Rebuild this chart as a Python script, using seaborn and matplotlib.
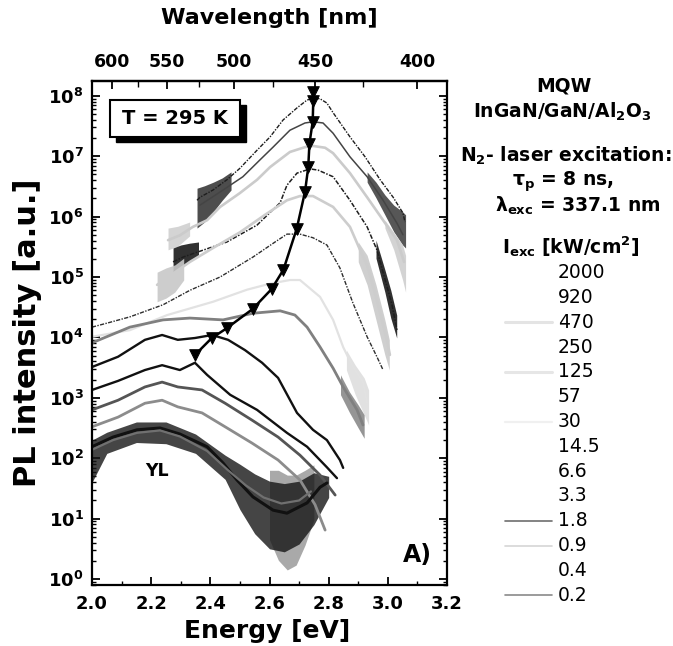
import numpy as np
import matplotlib
matplotlib.use("Agg")
import matplotlib.pyplot as plt
from matplotlib.patches import Rectangle
from matplotlib.lines import Line2D
from matplotlib.ticker import LogLocator, NullFormatter, FixedLocator, MultipleLocator
import seaborn as sns

sns.set_style("ticks")
plt.rcParams['font.family'] = ['DejaVu Sans']
plt.rcParams['mathtext.fontset'] = 'custom'
plt.rcParams['mathtext.rm'] = 'DejaVu Sans:bold'
plt.rcParams['mathtext.bf'] = 'DejaVu Sans:bold'
plt.rcParams['mathtext.it'] = 'DejaVu Sans:bold'
plt.rcParams['mathtext.sf'] = 'DejaVu Sans:bold'
plt.rcParams.update({'text.color': 'black', 'axes.labelcolor': 'black', 'xtick.color': 'black',
                     'ytick.color': 'black', 'axes.edgecolor': 'black'})

# ---------------- data (energy in eV, log10 of PL intensity) ----------------
E_2000 = [2.355, 2.365, 2.409, 2.456, 2.50, 2.558, 2.602, 2.646, 2.693, 2.727, 2.747, 2.771, 2.794, 2.815, 2.872, 2.923, 2.974, 3.018, 3.051, 3.058]
LOG_2000 = [6.27, 6.32, 6.44, 6.61, 6.80, 7.10, 7.32, 7.60, 7.80, 7.93, 7.96, 7.95, 7.88, 7.72, 7.32, 6.99, 6.61, 6.32, 6.06, 5.91]
E_920 = [2.365, 2.443, 2.51, 2.568, 2.612, 2.669, 2.72, 2.747, 2.781, 2.815, 2.872, 2.93, 2.984, 3.031, 3.051]
LOG_920 = [6.19, 6.44, 6.66, 6.94, 7.15, 7.43, 7.55, 7.57, 7.55, 7.38, 6.99, 6.66, 6.27, 5.89, 5.70]
E_470 = [2.257, 2.297, 2.341, 2.389, 2.433, 2.50, 2.558, 2.602, 2.669, 2.72, 2.747, 2.788, 2.815, 2.872, 2.93, 2.984, 3.031, 3.055]
LOG_470 = [5.61, 5.69, 5.83, 5.94, 6.16, 6.39, 6.61, 6.82, 7.07, 7.15, 7.17, 7.14, 7.05, 6.72, 6.32, 5.94, 5.61, 5.25]
E_250 = [2.274, 2.308, 2.355, 2.456, 2.558, 2.636, 2.659, 2.693, 2.737, 2.764, 2.815, 2.872, 2.93, 2.963, 2.991, 3.014, 3.031]
LOG_250 = [5.25, 5.33, 5.41, 5.58, 5.86, 6.23, 6.52, 6.72, 6.79, 6.77, 6.66, 6.27, 5.83, 5.45, 4.95, 4.54, 4.12]
E_125 = [2.22, 2.281, 2.331, 2.409, 2.50, 2.585, 2.659, 2.703, 2.747, 2.815, 2.872, 2.906, 2.93, 2.963, 2.997, 3.007]
LOG_125 = [4.87, 5.08, 5.25, 5.48, 5.74, 6.03, 6.27, 6.34, 6.34, 6.16, 5.83, 5.45, 5.20, 4.62, 3.96, 3.71]
E_57 = [2.0, 2.061, 2.128, 2.24, 2.331, 2.433, 2.544, 2.619, 2.659, 2.703, 2.747, 2.794, 2.838, 2.882, 2.93, 2.963, 2.984]
LOG_57 = [4.17, 4.25, 4.34, 4.54, 4.78, 5.00, 5.33, 5.58, 5.71, 5.71, 5.65, 5.53, 5.15, 4.57, 4.01, 3.68, 3.46]
E_30 = [2.0, 2.128, 2.254, 2.409, 2.524, 2.602, 2.669, 2.703, 2.771, 2.815, 2.849, 2.882, 2.916, 2.93]
LOG_30 = [4.01, 4.12, 4.37, 4.59, 4.79, 4.89, 4.95, 4.95, 4.67, 4.29, 3.84, 3.51, 3.26, 2.91]
E_14 = [2.0, 2.128, 2.24, 2.331, 2.443, 2.544, 2.636, 2.686, 2.727, 2.771, 2.815, 2.849, 2.896, 2.916]
LOG_14 = [3.91, 4.17, 4.29, 4.32, 4.29, 4.40, 4.44, 4.37, 4.17, 3.84, 3.49, 3.18, 2.80, 2.55]
E_6 = [2.0, 2.088, 2.179, 2.237, 2.29, 2.348, 2.406, 2.46, 2.517, 2.575, 2.629, 2.693, 2.747, 2.794, 2.838, 2.849]
LOG_6 = [3.51, 3.68, 3.96, 4.04, 3.96, 3.99, 4.04, 3.96, 3.79, 3.58, 3.33, 2.75, 2.47, 2.30, 1.97, 1.84]
E_3 = [2.0, 2.088, 2.179, 2.237, 2.297, 2.348, 2.389, 2.467, 2.558, 2.659, 2.727, 2.794, 2.828]
LOG_3 = [3.13, 3.28, 3.46, 3.54, 3.46, 3.58, 3.38, 3.05, 2.80, 2.42, 2.19, 1.85, 1.67]
E_1p8 = [2.0, 2.088, 2.179, 2.237, 2.29, 2.372, 2.45, 2.541, 2.629, 2.703, 2.771, 2.822]
LOG_1p8 = [2.80, 2.96, 3.18, 3.26, 3.18, 3.13, 2.91, 2.63, 2.35, 2.05, 1.72, 1.39]
E_0p9 = [2.0, 2.088, 2.179, 2.237, 2.29, 2.372, 2.45, 2.541, 2.629, 2.703, 2.754, 2.788]
LOG_0p9 = [2.52, 2.68, 2.91, 2.96, 2.85, 2.75, 2.52, 2.25, 1.97, 1.64, 1.23, 0.81]
E_0p4 = [2.0, 2.071, 2.152, 2.23, 2.297, 2.389, 2.443, 2.49, 2.544, 2.612, 2.659, 2.727, 2.771, 2.794]
LOG_0p4 = [2.19, 2.35, 2.47, 2.50, 2.40, 2.19, 1.92, 1.64, 1.36, 1.14, 1.09, 1.26, 1.52, 1.59]
E_0p2 = [2.0, 2.071, 2.152, 2.23, 2.297, 2.389, 2.46, 2.52, 2.58, 2.64, 2.70, 2.74]
LOG_0p2 = [2.14, 2.30, 2.42, 2.46, 2.36, 2.12, 1.80, 1.55, 1.35, 1.25, 1.30, 1.45]

# peak positions (triangles)
TRI_E = [2.748, 2.748, 2.746, 2.735, 2.731, 2.720, 2.692, 2.647, 2.607, 2.543, 2.455, 2.405, 2.348]
TRI_LOG = [8.07, 7.92, 7.57, 7.21, 6.82, 6.41, 5.80, 5.12, 4.80, 4.47, 4.15, 3.99, 3.71]

# noisy envelopes (energy, upper log10, lower log10)
NB1_E = [2.355, 2.38, 2.41, 2.44, 2.47]
NB1_HI = [6.47, 6.51, 6.57, 6.64, 6.74]
NB1_LO = [5.81, 5.91, 6.08, 6.27, 6.44]
NB2_E = [2.93, 2.96, 2.99, 3.02, 3.05, 3.06]
NB2_HI = [6.74, 6.57, 6.36, 6.19, 6.08, 6.03]
NB2_LO = [6.57, 6.31, 6.03, 5.75, 5.53, 5.48]
NB3_E = [2.99, 3.02, 3.05, 3.06]
NB3_HI = [5.94, 5.74, 5.53, 5.36]
NB3_LO = [5.81, 5.45, 4.95, 4.75]
NB4_E = [2.257, 2.29, 2.33]
NB4_HI = [5.81, 5.84, 5.91]
NB4_LO = [5.45, 5.51, 5.68]
NB5_E = [2.274, 2.30, 2.33, 2.36]
NB5_HI = [5.48, 5.53, 5.56, 5.58]
NB5_LO = [5.08, 5.15, 5.25, 5.35]
NB6_E = [2.96, 2.99, 3.01, 3.03]
NB6_HI = [5.61, 5.12, 4.78, 4.37]
NB6_LO = [5.31, 4.75, 4.32, 3.99]
NB7_E = [2.22, 2.25, 2.28, 2.31]
NB7_HI = [5.08, 5.15, 5.20, 5.31]
NB7_LO = [4.59, 4.65, 4.75, 4.95]
NB8_E = [2.90, 2.93, 2.96, 2.99, 3.005]
NB8_HI = [5.58, 5.36, 4.87, 4.29, 3.96]
NB8_LO = [5.25, 4.87, 4.29, 3.71, 3.46]
NB9_E = [2.86, 2.89, 2.92, 2.935]
NB9_HI = [3.79, 3.54, 3.33, 3.13]
NB9_LO = [3.46, 3.05, 2.72, 2.55]
NB10_E = [2.84, 2.87, 2.90, 2.92]
NB10_HI = [3.38, 3.10, 2.88, 2.72]
NB10_LO = [3.05, 2.76, 2.50, 2.33]
NB11_E = [2.0, 2.05, 2.15, 2.25, 2.35, 2.45, 2.5, 2.55, 2.6, 2.65, 2.7, 2.75, 2.8]
NB11_HI = [2.30, 2.43, 2.60, 2.60, 2.40, 2.05, 1.90, 1.74, 1.62, 1.58, 1.62, 1.76, 1.70]
NB11_LO = [1.60, 2.08, 2.26, 2.24, 2.08, 1.65, 1.15, 0.75, 0.50, 0.45, 0.58, 0.90, 1.35]
NB12_E = [2.6, 2.63, 2.66, 2.69, 2.72, 2.75]
NB12_HI = [1.80, 1.80, 1.72, 1.72, 1.80, 1.89]
NB12_LO = [0.65, 0.31, 0.15, 0.23, 0.56, 0.98]

LEGEND_LABELS = ["2000", "920", "470", "250", "125", "57", "30", "14.5", "6.6", "3.3", "1.8", "0.9", "0.4", "0.2"]
WAVE_TICKS = [600, 550, 500, 450, 400]
WAVE_MINOR = [575, 525, 475, 425]
E_TICKS = [2.0, 2.2, 2.4, 2.6, 2.8, 3.0, 3.2]

# ---------------- figure ----------------
fig = plt.figure(figsize=(6.73, 6.46), dpi=100)
ax = fig.add_axes([92/673, 1-585/646, 355/673, 504/646])
ax.set_yscale('log')

def P(v):
    return 10 ** np.asarray(v, float)

bands = [
    (NB1_E, NB1_HI, NB1_LO, '#3a3a3a', 0.9),
    (NB2_E, NB2_HI, NB2_LO, '#454545', 0.9),
    (NB3_E, NB3_HI, NB3_LO, '#cfcfcf', 0.9),
    (NB4_E, NB4_HI, NB4_LO, '#d0d0d0', 0.9),
    (NB5_E, NB5_HI, NB5_LO, '#1a1a1a', 0.9),
    (NB6_E, NB6_HI, NB6_LO, '#1a1a1a', 0.9),
    (NB7_E, NB7_HI, NB7_LO, '#c8c8c8', 0.9),
    (NB8_E, NB8_HI, NB8_LO, '#cacaca', 0.9),
    (NB9_E, NB9_HI, NB9_LO, '#dedede', 0.9),
    (NB10_E, NB10_HI, NB10_LO, '#8a8a8a', 0.9),
    (NB12_E, NB12_HI, NB12_LO, '#9a9a9a', 0.85),
    (NB11_E, NB11_HI, NB11_LO, '#161616', 0.8),
]
for be, bh, bl, bc, ba in bands:
    ax.fill_between(be, P(bl), P(bh), color=bc, lw=0, alpha=ba, zorder=1)

dashdot = (0, (3, 1, 1, 1))
curves = [
    (E_2000, LOG_2000, '#1e1e1e', 1.0, dashdot),
    (E_920, LOG_920, '#444444', 1.1, '-'),
    (E_470, LOG_470, '#cbcbcb', 1.9, '-'),
    (E_250, LOG_250, '#1e1e1e', 1.1, dashdot),
    (E_125, LOG_125, '#cdcdcd', 1.9, '-'),
    (E_57, LOG_57, '#2e2e2e', 1.0, dashdot),
    (E_30, LOG_30, '#e2e2e2', 1.6, '-'),
    (E_14, LOG_14, '#808080', 2.0, '-'),
    (E_6, LOG_6, '#111111', 1.7, '-'),
    (E_3, LOG_3, '#111111', 1.7, '-'),
    (E_1p8, LOG_1p8, '#555555', 2.0, '-'),
    (E_0p9, LOG_0p9, '#8c8c8c', 2.0, '-'),
    (E_0p4, LOG_0p4, '#111111', 2.2, '-'),
    (E_0p2, LOG_0p2, '#707070', 1.6, '-'),
]
for ce, cl, cc, lw, ls in curves:
    sns.lineplot(x=ce, y=P(cl), ax=ax, color=cc, lw=lw, linestyle=ls,
                 estimator=None, sort=False, legend=False, zorder=2)

sns.lineplot(x=TRI_E, y=P(TRI_LOG), ax=ax, color='black', lw=1.8,
             estimator=None, sort=False, legend=False, zorder=4)
sns.scatterplot(x=TRI_E, y=P(TRI_LOG), ax=ax, marker='v', s=70, color='black',
                edgecolor='black', legend=False, zorder=5)

ax.set_xlim(2.0, 3.2)
ax.set_ylim(0.796, 1.758e8)

# axes styling
for sp in ax.spines.values():
    sp.set_color('black')
    sp.set_linewidth(1.6)
ax.set_xticks(E_TICKS)
ax.set_xticklabels([f"{t:.1f}" for t in E_TICKS], fontsize=13, fontweight='bold')
ax.xaxis.set_minor_locator(MultipleLocator(0.1))
ax.set_yticks([10.0 ** k for k in range(0, 9)])
ax.set_yticklabels([r'$10^{%d}$' % k for k in range(0, 9)], fontsize=13)
ax.yaxis.set_minor_locator(LogLocator(base=10, subs=np.arange(2, 10), numticks=20))
ax.yaxis.set_minor_formatter(NullFormatter())
ax.tick_params(which='both', direction='in', top=False, bottom=True, left=True, right=True, color='black')
ax.tick_params(which='major', length=6, width=1.3)
ax.tick_params(which='minor', length=3, width=1.0)
ax.tick_params(axis='x', which='major', pad=7)
ax.tick_params(axis='y', which='major', pad=6)
ax.set_xlabel('Energy [eV]', fontsize=18, fontweight='bold')
ax.xaxis.set_label_coords(0.493, -0.068)
ax.set_ylabel('PL intensity [a.u.]', fontsize=22, fontweight='bold')
ax.yaxis.set_label_coords(-0.142, 0.50)
ax.grid(False)

def e2l(x):
    x = np.asarray(x, float)
    with np.errstate(divide='ignore', invalid='ignore'):
        return 1239.84 / x

secax = ax.secondary_xaxis('top', functions=(e2l, e2l))
secax.set_xticks(WAVE_TICKS)
secax.set_xticklabels([str(w) for w in WAVE_TICKS], fontsize=12.5, fontweight='bold')
secax.xaxis.set_minor_locator(FixedLocator(WAVE_MINOR))
secax.tick_params(which='both', direction='in', color='black')
secax.tick_params(which='major', length=6, width=1.3, pad=7)
secax.tick_params(which='minor', length=4, width=1.0)
secax.spines['top'].set_linewidth(1.6)
secax.set_xlabel('Wavelength [nm]', fontsize=16, fontweight='bold', labelpad=21)

# T = 295 K box
bx, by, bw, bh = 0.051, 0.889, 0.366, 0.073
ax.add_patch(Rectangle((bx + 0.017, by - 0.010), bw, bh, transform=ax.transAxes,
                       facecolor='black', edgecolor='black', zorder=6, clip_on=False))
ax.add_patch(Rectangle((bx, by), bw, bh, transform=ax.transAxes,
                       facecolor='white', edgecolor='black', lw=1.5, zorder=7, clip_on=False))
ax.text(bx + bw / 2, by + bh / 2, 'T = 295 K', transform=ax.transAxes, ha='center', va='center',
        fontsize=14, fontweight='bold', zorder=8)

ax.text(2.22, 10 ** 1.79, 'YL', ha='center', va='center', fontsize=12.5, fontweight='bold', zorder=8)
ax.text(0.918, 0.06, 'A)', transform=ax.transAxes, ha='center', va='center', fontsize=17,
        fontweight='bold', zorder=8)

# right-hand annotation block
def fx(px):
    return px / 673

def fy(py):
    return 1 - py / 646

hdr = dict(ha='center', va='center', fontsize=13.5, fontweight='bold')
fig.text(fx(564), fy(86), 'MQW', **hdr)
fig.text(fx(562), fy(112), r'InGaN/GaN/Al$_{2}$O$_{3}$', **hdr)
fig.text(fx(566), fy(156), r'N$_{2}$- laser excitation:', **hdr)
fig.text(fx(563), fy(182), r'τ$_{p}$ = 8 ns,', **hdr)
fig.text(fx(578), fy(206), r'λ$_{exc}$ = 337.1 nm', **hdr)
fig.text(fx(571), fy(247), r'I$_{exc}$ [kW/cm$^{2}$]', **hdr)

legend_colors = ['none', 'none', '#e4e4e4', 'none', '#e6e6e6', 'none', '#f0f0f0',
                 'none', 'none', 'none', '#6e6e6e', '#d6d6d6', 'none', '#8a8a8a']
legend_lw = [1, 1, 2.2, 1, 2.2, 1, 1.6, 1, 1, 1, 1.2, 1.2, 1, 1.2]
for i, lab in enumerate(LEGEND_LABELS):
    yy = 272.7 + i * 24.8
    if legend_colors[i] != 'none':
        fig.add_artist(Line2D([fx(505), fx(552)], [fy(yy), fy(yy)], color=legend_colors[i],
                              lw=legend_lw[i], transform=fig.transFigure))
    fig.text(fx(558), fy(yy), lab, ha='left', va='center', fontsize=13.5)

fig.savefig('out.png', dpi=100)
